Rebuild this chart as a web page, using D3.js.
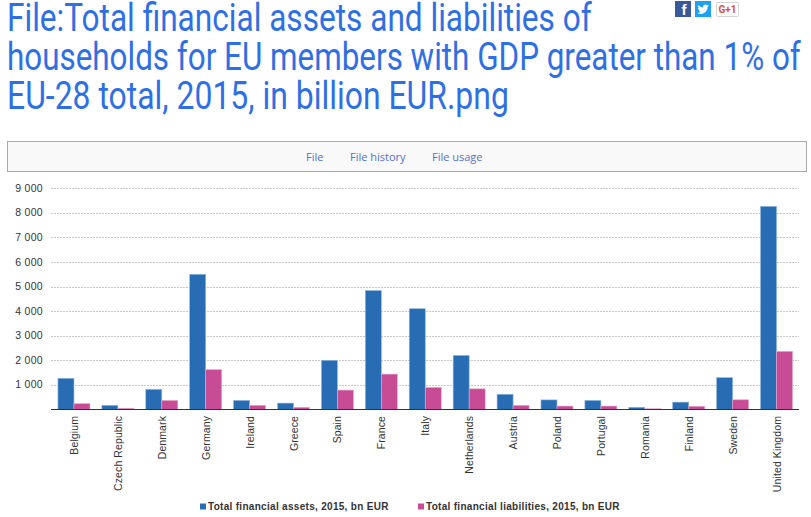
<!DOCTYPE html>
<html>
<head>
<meta charset="utf-8">
<script src="https://cdn.jsdelivr.net/npm/d3@7"></script>
<style>
  html, body { margin: 0; padding: 0; background: #fff; }
  svg { display: block; }
  .axis-label { font-family: "Liberation Sans", Arial, sans-serif; font-size: 10.5px; fill: #333; }
  .legend-label { font-family: "Liberation Sans", Arial, sans-serif; font-size: 10px; font-weight: bold; fill: #333; }
</style>
</head>
<body>
<svg id="chart" width="811" height="517"></svg>
<script>
// values
const countries = ['Belgium', 'Czech Republic', 'Denmark', 'Germany', 'Ireland', 'Greece', 'Spain', 'France',
  'Italy', 'Netherlands', 'Austria', 'Poland', 'Portugal', 'Romania', 'Finland', 'Sweden', 'United Kingdom'];
const assets      = [1270, 170, 820, 5500, 370, 260, 2000, 4840, 4100, 2200, 620, 390, 370, 90, 300, 1295, 8265];
const liabilities = [240, 50, 370, 1620, 170, 90, 790, 1440, 900, 840, 170, 140, 140, 30, 130, 395, 2365];
const yTicks = [1000, 2000, 3000, 4000, 5000, 6000, 7000, 8000, 9000];

const seriesNames = ['Total financial assets, 2015, bn EUR', 'Total financial liabilities, 2015, bn EUR'];
const titleLines = ['File:Total financial assets and liabilities of',
  'households for EU members with GDP greater than 1% of',
  'EU-28 total, 2015, in billion EUR.png'];
const tabLabels = ['File', 'File history', 'File usage'];

const BLUE = '#286db4';
const PINK = '#c84b96';

const svg = d3.select('#chart');

// ── Page title ──────────────────────────────────────────
// the original face is condensed, so squeeze Roboto to the measured line widths
const titleWidths = [585, 794, 502];
titleLines.forEach((line, i) => {
  const t = svg.append('text')
    .attr('font-family', 'Roboto, sans-serif').attr('font-size', 39)
    .attr('fill', '#2f6fe4')
    .text(line);
  const sx = titleWidths[i] / t.node().getComputedTextLength();
  t.attr('transform', `translate(7,${31 + i * 39}) scale(${sx},1)`);
});

// ── Share buttons ───────────────────────────────────────
svg.append('rect').attr('x', 675).attr('y', 1).attr('width', 16).attr('height', 16).attr('fill', '#3b5998');
svg.append('text').attr('x', 684).attr('y', 15).attr('text-anchor', 'middle')
  .attr('font-family', '"Liberation Sans", sans-serif').attr('font-weight', 'bold').attr('font-size', 15)
  .attr('fill', '#fff').text('f');
svg.append('rect').attr('x', 695).attr('y', 1).attr('width', 16).attr('height', 16).attr('fill', '#1da1f2');
svg.append('path').attr('transform', 'translate(697,3)')
  .attr('d', 'M12 2.5c-.5.2-.9.3-1.4.4.5-.3.9-.8 1-1.3-.5.3-1 .5-1.5.6C9.6 1.700 9 1.400 8.300 1.400 7 1.400 6 2.500 6 3.800c0 .2 0 .4.1.5C4.100 4.200 2.400 3.300 1.300 1.900 1.100 2.300 1 2.700 1 3.100c0 .8.400 1.500 1 2-.4 0-.8-.1-1.100-.3 0 1.200.8 2.100 1.900 2.400-.4.1-.8.1-1.100 0 .3.900 1.200 1.600 2.200 1.600C3 9.600 1.500 10.100 0 9.900c1 .7 2.300 1.100 3.700 1.100 4.400 0 6.900-3.700 6.900-6.900v-.3c.5-.3.9-.8 1.400-1.300z')
  .attr('fill', '#fff');
svg.append('rect').attr('x', 716.500).attr('y', 2.500).attr('width', 22).attr('height', 14).attr('rx', 1.500)
  .attr('fill', '#fff').attr('stroke', '#d5d5d5');
svg.append('text').attr('x', 727.500).attr('y', 13).attr('text-anchor', 'middle')
  .attr('font-family', 'Roboto, sans-serif').attr('font-weight', 'bold').attr('font-size', 10)
  .attr('fill', '#dc4e41').text('G+1');

// ── Tab box ─────────────────────────────────────────────
svg.append('rect').attr('x', 7.500).attr('y', 141.500).attr('width', 799).attr('height', 30)
  .attr('fill', '#f9f9f9').attr('stroke', '#aaa');
const tabX = [306, 350, 432];
tabLabels.forEach((t, i) => {
  svg.append('text').attr('x', tabX[i]).attr('y', 161)
    .attr('font-family', '"Open Sans", sans-serif').attr('font-size', 11)
    .attr('fill', '#5570d8').text(t);
});

// ── Scales ──────────────────────────────────────────────
const x0 = d3.scaleBand().domain(countries).range([52, 798.5]);
const y = d3.scaleLinear().domain([0, 9000]).range([409.5, 188.3]);
const BAR_W = 16;

// ── Gridlines ───────────────────────────────────────────
svg.append('g').selectAll('line').data(yTicks).join('line')
  .attr('x1', 51).attr('x2', 799)
  .attr('y1', d => Math.round(y(d)) + 0.5).attr('y2', d => Math.round(y(d)) + 0.5)
  .attr('stroke', '#c8c8c8').attr('stroke-dasharray', '2,1');

// ── Bars ────────────────────────────────────────────────
[assets, liabilities].forEach((values, s) => {
  svg.append('g').selectAll('rect').data(values).join('rect')
    .attr('x', (d, i) => x0(countries[i]) + x0.bandwidth() / 2 + (s === 0 ? -BAR_W : 0))
    .attr('y', d => y(d))
    .attr('width', BAR_W)
    .attr('height', d => y(0) - y(d))
    .attr('fill', s === 0 ? BLUE : PINK)
    .attr('stroke', s === 0 ? '#8fb6dc' : '#e6a8cc')
    .attr('stroke-width', 0.6);
});

// ── Axes ────────────────────────────────────────────────
svg.append('line').attr('x1', 51).attr('x2', 799).attr('y1', 409.5).attr('y2', 409.5)
  .attr('stroke', '#333').attr('stroke-width', 1);

const fmt = d => d3.format(',')(d).replace(',', ' ');
svg.append('g').selectAll('text').data(yTicks).join('text')
  .attr('class', 'axis-label')
  .attr('x', 43).attr('y', d => y(d) + 3.5)
  .attr('text-anchor', 'end')
  .attr('letter-spacing', 0.3)
  .text(fmt);

svg.append('g').selectAll('text').data(countries).join('text')
  .attr('class', 'axis-label')
  .attr('text-anchor', 'end')
  .attr('letter-spacing', 0.1)
  .attr('transform', d => `translate(${x0(d) + x0.bandwidth() / 2 + 4},416) rotate(-90)`)
  .text(d => d);

// ── Legend ──────────────────────────────────────────────
const legendX = [200, 418];
seriesNames.forEach((name, i) => {
  svg.append('rect').attr('x', legendX[i]).attr('y', 503.500).attr('width', 6).attr('height', 6)
    .attr('fill', i === 0 ? BLUE : PINK);
  svg.append('text').attr('class', 'legend-label')
    .attr('x', legendX[i] + 8).attr('y', 510)
    .attr('letter-spacing', 0.3)
    .text(name);
});
</script>
</body>
</html>
